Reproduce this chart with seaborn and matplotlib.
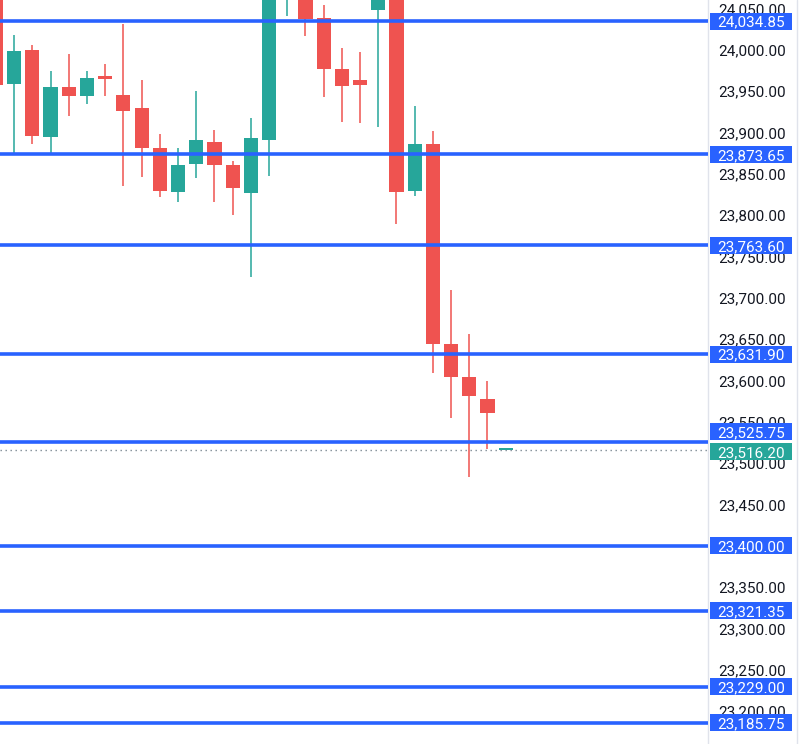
import matplotlib
matplotlib.use("Agg")
import matplotlib.pyplot as plt
import matplotlib.patches as mpatches
import numpy as np
import seaborn as sns

# candle data
opens = [24080, 23958.5, 24000.0, 23894.8, 23955.2, 23944.4, 23968.6, 23945.6,
         23929.8, 23881.5, 23828.2, 23862.1, 23888.7, 23860.9, 23827.0, 23891.1,
         24070, 24075, 24038.7, 23977.0, 23963.7, 24048.4, 24065, 23829.4,
         23886.3, 23644.4, 23604.5, 23577.8, 23515.8]
highs = [24090, 24018.1, 24006.0, 23974.6, 23995.2, 23974.6, 23983.1, 24031.4,
         23963.7, 23898.4, 23881.5, 23950.4, 23903.2, 23865.7, 23917.7, 24085,
         24100, 24085, 24054.4, 24002.4, 23997.6, 24080, 24075, 23932.3,
         23902.0, 23709.7, 23656.5, 23599.6, 23516.5]
lows = [23950, 23873.0, 23886.3, 23875.4, 23920.2, 23934.7, 23944.4, 23835.5,
        23846.4, 23822.2, 23816.1, 23845.2, 23816.1, 23800.4, 23725.4, 23847.6,
        24041.1, 24016.9, 23943.1, 23912.9, 23911.7, 23906.9, 23789.5, 23823.4,
        23609.3, 23554.9, 23483.5, 23517.4, 23515.5]
closes = [23957.7, 23999.2, 23896.0, 23955.2, 23944.4, 23966.1, 23964.9, 23926.2,
          23881.5, 23829.4, 23860.9, 23891.1, 23860.9, 23833.1, 23893.6, 24075,
          24090, 24037.5, 23977.0, 23956.5, 23957.7, 24070, 23828.2, 23886.3,
          23644.4, 23604.5, 23581.5, 23560.9, 23516.2]

levels = [24034.85, 23873.65, 23763.60, 23631.90, 23525.75,
          23400.00, 23321.35, 23229.00, 23185.75]
last_price = 23516.20
tick_values = list(range(23200, 24051, 50))

GREEN = "#26a69a"
RED = "#ef5350"
BLUE = "#2962ff"
TEXT = "#131722"

sns.set_theme(style="white")
plt.rcParams["font.family"] = ["Roboto", "DejaVu Sans"]

fig = plt.figure(figsize=(8, 7.44), dpi=100)
ax = fig.add_axes([0, 0, 708 / 800, 1])

idx = np.arange(len(opens))
o = np.array(opens)
c = np.array(closes)
up = c >= o
colors = np.where(up, GREEN, RED)

# wicks
ax.vlines(idx, lows, highs, colors=colors, linewidth=1.1, zorder=2)
# bodies (tiny minimum height so a doji still shows)
body_h = np.maximum(np.abs(c - o), 2.0)
ax.bar(idx, body_h, bottom=np.minimum(o, c), width=0.78, color=colors,
       linewidth=0, zorder=3)

# horizontal levels
for lv in levels:
    ax.axhline(lv, color=BLUE, linewidth=2.6, zorder=4)
ax.axhline(last_price, color="#7d8b95", linewidth=1.0,
           linestyle=(0, (1, 2.6)), zorder=1)

ymin, ymax = 23160, 24060.5
ax.set_xlim(0.22, 39.12)
ax.set_ylim(ymin, ymax)
ax.set_xticks([])

ax.yaxis.tick_right()
ax.set_yticks(tick_values)
ax.set_yticklabels([f"{v:,.2f}" for v in tick_values])
ax.tick_params(axis="y", length=0, pad=7.5, labelsize=11, labelcolor=TEXT)
for lab in ax.get_yticklabels():
    lab.set_horizontalalignment("left")

sns.despine(ax=ax, left=True, top=True, bottom=True, right=False)
ax.spines["right"].set_color("#e0e3eb")
ax.spines["right"].set_linewidth(1.0)

# price labels on the axis
trans = ax.get_yaxis_transform()
px_per_unit = 744 / (ymax - ymin)
box_w = 82 / 708
box_h = 17 / px_per_unit
gap = 20 / px_per_unit
x0 = 710 / 708


def price_box(price, ypos, color):
    rect = mpatches.Rectangle((x0, ypos - box_h / 2), box_w, box_h,
                              transform=trans, facecolor=color,
                              edgecolor="none", clip_on=False, zorder=10)
    ax.add_patch(rect)
    ax.text(x0 + box_w / 2, ypos, f"{price:,.2f}", transform=trans,
            ha="center", va="center_baseline", color="white", fontsize=11,
            clip_on=False, zorder=11)


# labels too close to the last-price label get pushed away from it
last_pos = last_price - 2 / px_per_unit
for lv in levels:
    pos = lv
    if abs(lv - last_pos) < gap:
        pos = last_pos + gap if lv > last_pos else last_pos - gap
    price_box(lv, pos, BLUE)
price_box(last_price, last_pos, GREEN)

# thin frame line at the right edge of the image
fig.add_artist(plt.Line2D([797 / 800, 797 / 800], [0, 1], color="#e0e3eb",
                          linewidth=1.0, transform=fig.transFigure))

fig.savefig("out.png", dpi=100)
